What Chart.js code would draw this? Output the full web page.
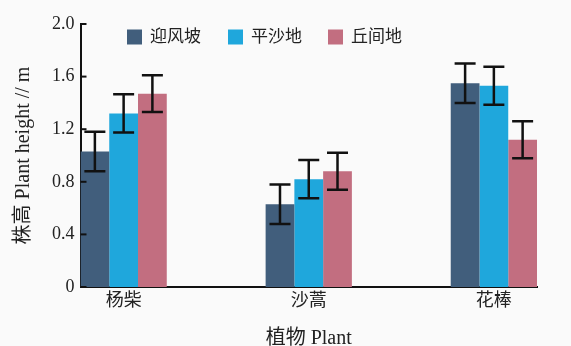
<!DOCTYPE html>
<html>
<head>
<meta charset="utf-8">
<script src="https://cdn.jsdelivr.net/npm/chart.js@4"></script>
<style>
  html, body { margin: 0; padding: 0; background: #fafafa; }
  #wrap { width: 571px; height: 346px; }
</style>
</head>
<body>
<div id="wrap"><canvas id="c"></canvas></div>
<script>
// Data
const plants = ["杨柴", "沙蒿", "花棒"];
const sites = ["迎风坡", "平沙地", "丘间地"];
const windward = [1.03, 0.63, 1.55];
const flatSand = [1.32, 0.82, 1.53];
const interdune = [1.47, 0.88, 1.12];
const errWindward = [0.15, 0.15, 0.15];
const errFlatSand = [0.145, 0.145, 0.145];
const errInterdune = [0.14, 0.14, 0.14];
const yTicks = [0, 0.4, 0.8, 1.2, 1.6, 2.0];

const colors = ["#415e7c", "#1fa7dc", "#c26e80"];
const font = '"Liberation Serif", "Noto Sans CJK SC", serif';

const series = [windward, flatSand, interdune];
const errors = [errWindward, errFlatSand, errInterdune];

// error bars + inward y ticks + legend inside the plot
const extras = {
  id: "extras",
  afterDatasetsDraw(chart) {
    const ctx = chart.ctx;
    const y = chart.scales.y;
    ctx.save();
    ctx.strokeStyle = "#111";
    ctx.lineWidth = 2.5;
    chart.data.datasets.forEach((ds, i) => {
      const meta = chart.getDatasetMeta(i);
      meta.data.forEach((bar, j) => {
        const v = series[i][j], e = errors[i][j];
        const top = y.getPixelForValue(v + e);
        const bot = y.getPixelForValue(v - e);
        ctx.beginPath();
        ctx.moveTo(bar.x, top); ctx.lineTo(bar.x, bot);
        ctx.moveTo(bar.x - 10.5, top); ctx.lineTo(bar.x + 10.5, top);
        ctx.moveTo(bar.x - 10.5, bot); ctx.lineTo(bar.x + 10.5, bot);
        ctx.stroke();
      });
    });
    // y ticks pointing inward
    const left = chart.chartArea.left;
    ctx.lineWidth = 2;
    yTicks.forEach(t => {
      const py = y.getPixelForValue(t);
      ctx.beginPath();
      ctx.moveTo(left, py); ctx.lineTo(left + 6, py);
      ctx.stroke();
    });
    // legend
    ctx.font = "17px " + font;
    ctx.textBaseline = "middle";
    const lx = [127, 228, 328];
    sites.forEach((s, i) => {
      ctx.fillStyle = colors[i];
      ctx.fillRect(lx[i], 29.5, 15, 15);
      ctx.fillStyle = "#222";
      ctx.fillText(s, lx[i] + 23, 37.5);
    });
    ctx.restore();
  }
};

new Chart(document.getElementById("c"), {
  type: "bar",
  data: {
    datasets: sites.map((s, i) => ({
      label: s,
      data: series[i].map((v, j) => ({ x: j, y: v })),
      backgroundColor: colors[i],
      borderWidth: 0,
      categoryPercentage: 0.466,
      barPercentage: 1.0
    }))
  },
  options: {
    responsive: true,
    maintainAspectRatio: false,
    animation: false,
    layout: { padding: { top: 24, right: 34, left: 12, bottom: 0 } },
    plugins: { legend: { display: false }, tooltip: { enabled: false } },
    scales: {
      x: {
        type: "linear",
        min: -0.233,
        max: 2.233,
        offset: false,
        grid: { display: false, drawTicks: false, offset: false },
        border: { display: true, color: "#111", width: 2 },
        ticks: {
          stepSize: 1,
          includeBounds: false,
          padding: 5.5,
          color: "#222",
          font: { family: font, size: 18, lineHeight: 1 },
          callback: v => Number.isInteger(v) ? plants[v] : ""
        },
        title: {
          display: true,
          text: "植物 Plant",
          color: "#222",
          font: { family: font, size: 20, lineHeight: 0.7 },
          padding: { top: 16, bottom: 0 }
        }
      },
      y: {
        min: 0,
        max: 2.0,
        grid: { display: false, drawTicks: false },
        border: { display: true, color: "#111", width: 2 },
        afterBuildTicks: s => { s.ticks = yTicks.map(v => ({ value: v })); },
        ticks: {
          padding: 6,
          color: "#222",
          font: { family: font, size: 18 },
          callback: v => v === 0 ? "0" : v.toFixed(1)
        },
        title: {
          display: true,
          text: "株高 Plant height // m",
          color: "#222",
          font: { family: font, size: 20 },
          padding: { top: 0, bottom: 10 }
        }
      }
    }
  },
  plugins: [extras]
});
</script>
</body>
</html>
